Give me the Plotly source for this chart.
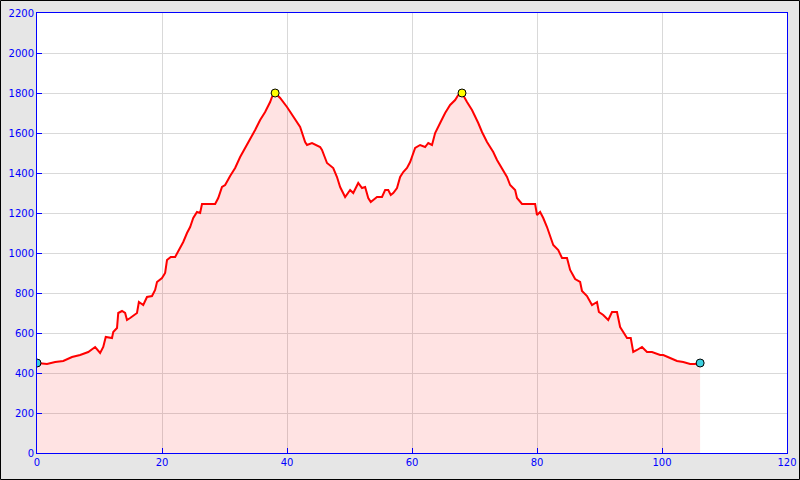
import plotly.graph_objects as go

distance_km = [0, 1.6, 2.9, 4.2, 5.6, 6.9, 8.2, 9.3, 10.1, 10.6, 11.0, 12.0, 12.2, 12.8, 13.0,
               13.6, 14.1, 14.4, 14.9, 16.0, 16.3, 17.0, 17.6, 18.4, 18.9, 19.2, 20.0, 20.5,
               20.8, 21.4, 22.1, 22.9, 23.4, 24.0, 24.5, 25.0, 25.6, 26.1, 26.4, 28.5, 29.0,
               29.6, 30.1, 30.9, 31.7, 32.5, 33.3, 34.1, 34.9, 35.7, 36.5, 37.3, 37.6, 38.1,
               38.9, 40.0, 41.0, 42.1, 42.9, 43.2, 44.0, 44.8, 45.3, 45.6, 46.4, 47.4, 48.0,
               48.5, 49.3, 50.1, 50.6, 51.4, 52.0, 52.5, 53.0, 53.4, 54.4, 55.2, 55.7, 56.2,
               56.6, 57.0, 57.6, 58.1, 58.6, 59.2, 59.7, 60.5, 61.3, 62.1, 62.6, 63.2, 63.7,
               64.5, 65.3, 66.1, 66.9, 67.4, 68.0, 68.8, 69.6, 70.6, 71.2, 72.0, 73.0, 73.6,
               74.4, 75.2, 75.7, 76.5, 76.8, 77.6, 79.7, 80.0, 80.5, 81.0, 81.6, 82.1, 82.6,
               83.4, 84.0, 84.8, 85.3, 86.1, 86.9, 87.2, 88.0, 88.8, 89.6, 89.9, 90.6, 91.4,
               92.0, 92.8, 93.3, 93.8, 94.4, 95.0, 95.4, 96.0, 96.8, 97.6, 98.4, 99.7, 100.2,
               101.3, 102.4, 103.4, 104.5, 105.3, 106.1]
elevation_m = [450, 445, 455, 460, 480, 490, 505, 530, 500, 530, 580, 575, 605, 625, 700,
               710, 700, 665, 675, 700, 755, 740, 780, 785, 815, 855, 875, 900,
               965, 980, 980, 1025, 1055, 1100, 1130, 1175, 1205, 1200, 1245, 1245, 1275,
               1330, 1340, 1385, 1425, 1480, 1525, 1565, 1615, 1665, 1705, 1755, 1780, 1800,
               1775, 1730, 1680, 1630, 1555, 1540, 1550, 1540, 1530, 1515, 1450, 1425, 1380,
               1330, 1280, 1315, 1300, 1350, 1325, 1330, 1275, 1255, 1280, 1280, 1315, 1315,
               1290, 1300, 1325, 1380, 1405, 1425, 1455, 1525, 1540, 1530, 1550, 1540, 1600,
               1650, 1700, 1740, 1765, 1790, 1800, 1755, 1715, 1650, 1605, 1555, 1505, 1465,
               1425, 1380, 1340, 1315, 1275, 1245, 1245, 1190, 1205, 1175, 1130, 1080, 1040,
               1015, 975, 975, 915, 870, 855, 810, 785, 740, 755, 705, 690, 665,
               705, 705, 630, 605, 575, 575, 505, 515, 530, 505, 505, 490, 490,
               475, 460, 455, 445, 445, 450]

# Highlighted points
endpoint_x = [0, 106.1]
endpoint_y = [450, 450]
peak_x = [38.1, 68.0]
peak_y = [1800, 1800]

x_ticks = [0, 20, 40, 60, 80, 100, 120]
y_ticks = [0, 200, 400, 600, 800, 1000, 1200, 1400, 1600, 1800, 2000, 2200]

fig = go.Figure()
fig.add_trace(go.Scatter(
    x=distance_km, y=elevation_m, mode="lines",
    line=dict(color="#ff0000", width=2),
    fill="tozeroy", fillcolor="rgba(255,0,0,0.11)",
    hoverinfo="skip", showlegend=False))
fig.add_trace(go.Scatter(
    x=endpoint_x, y=endpoint_y, mode="markers",
    marker=dict(size=8, color="#3cd0e0", line=dict(color="#000000", width=1)),
    showlegend=False))
fig.add_trace(go.Scatter(
    x=peak_x, y=peak_y, mode="markers",
    marker=dict(size=8, color="#ffff00", line=dict(color="#000000", width=1)),
    showlegend=False))

axis_common = dict(
    showline=True, linecolor="#0000ff", linewidth=1, mirror=True,
    ticks="inside", ticklen=5, tickcolor="#0000ff", tickwidth=1,
    showgrid=True, gridcolor="#d9d9d9", gridwidth=1, zeroline=False,
    automargin=False,
    tickfont=dict(family="DejaVu Sans", size=10, color="#0000ff"),
)

fig.update_xaxes(range=[0, 120], tickvals=x_ticks, **axis_common)
fig.update_yaxes(range=[0, 2200], tickvals=y_ticks, **axis_common)

L, R, T, B = 37, 13, 13, 27
PW, PH = 800 - L - R, 480 - T - B
fig.update_layout(
    width=800, height=480,
    margin=dict(l=L, r=R, t=T, b=B, pad=0, autoexpand=False),
    paper_bgcolor="#e6e6e6", plot_bgcolor="#ffffff",
    shapes=[dict(type="rect", xref="paper", yref="paper",
                 x0=-(L - 0.5) / PW, x1=1 + (R - 0.5) / PW,
                 y0=-(B - 0.5) / PH, y1=1 + (T - 0.5) / PH,
                 line=dict(color="#000000", width=1), layer="above")],
)

fig.write_html(
    "out.html",
    config={"displayModeBar": False, "staticPlot": True},
    post_script="document.body.style.margin='0px';document.documentElement.style.margin='0px';",
)
